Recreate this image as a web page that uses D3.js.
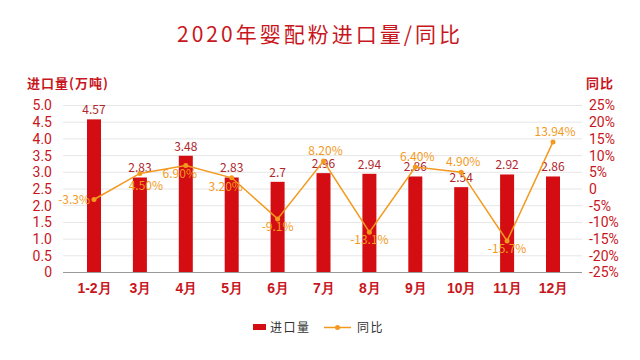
<!DOCTYPE html>
<html><head><meta charset="utf-8">
<script src="https://cdn.jsdelivr.net/npm/d3@7/dist/d3.min.js"></script>
<style>body{margin:0;background:#fff}svg{font-family:"Noto Sans CJK SC","Noto Sans",sans-serif}</style>
</head><body><svg id="c" width="640" height="360"></svg>
<script>
const categories = ["1-2月","3月","4月","5月","6月","7月","8月","9月","10月","11月","12月"];
const imports = [4.57,2.83,3.48,2.83,2.7,2.96,2.94,2.86,2.54,2.92,2.86];
const yoy = [-3.3,4.5,6.9,3.2,-9.1,8.2,-13.1,6.4,4.9,-15.7,13.94];
const yoyLabels = ["-3.3%","4.50%","6.90%","3.20%","-9.1%","8.20%","-13.1%","6.40%","4.90%","-15.7%","13.94%"];
const leftTicks = [0,0.5,1,1.5,2,2.5,3,3.5,4,4.5,5];
const rightTicks = [-25,-20,-15,-10,-5,0,5,10,15,20,25];
const labelPlacement = ["left","belowR","belowL","belowL","below","above","below","above","above","below","above"];

const RED="#d40d12", TXT="#c8161d", ORANGE="#f39a1e";
const svg=d3.select("#c");
const L=63,R=582,T=105,B=272;
const x=d3.scalePoint().domain(categories).range([94,553]);
const yL=d3.scaleLinear().domain([0,5]).range([B,T]);
const yR=d3.scaleLinear().domain([-25,25]).range([B,T]);

svg.append("text").attr("x",320).attr("y",42).attr("text-anchor","middle")
  .attr("fill",TXT).attr("font-size",21).attr("letter-spacing",3).text("2020年婴配粉进口量/同比");

// grid
svg.append("g").selectAll("line").data(leftTicks.slice(1)).join("line")
  .attr("x1",L).attr("x2",R).attr("y1",d=>yL(d)+0.5).attr("y2",d=>yL(d)+0.5)
  .attr("stroke","#e6e6e6");

// left axis
const gl=svg.append("g").attr("transform",`translate(${L-8},0)`)
  .call(d3.axisLeft(yL).tickValues(leftTicks).tickFormat(d=>d===0?"0":d3.format(".1f")(d)).tickSize(0));
gl.select(".domain").remove();
gl.selectAll("text").attr("fill",TXT).attr("font-size",14).attr("dy","0.35em").attr("font-family","Roboto");
// right axis
const gr=svg.append("g").attr("transform",`translate(${R+4},0)`)
  .call(d3.axisRight(yR).tickValues(rightTicks).tickFormat(d=>d===0?"0":d+"%").tickSize(0));
gr.select(".domain").remove();
gr.selectAll("text").attr("fill",TXT).attr("font-size",14).attr("dy","0.35em").attr("font-family","Roboto");

svg.append("text").attr("x",27).attr("y",88).attr("fill",TXT).attr("font-size",13).attr("font-weight","bold").attr("letter-spacing",1).text("进口量(万吨)");
svg.append("text").attr("x",586).attr("y",88).attr("fill",TXT).attr("font-size",13).attr("font-weight","bold").attr("letter-spacing",1).text("同比");

// bars
const bw=14;
svg.append("g").selectAll("rect").data(imports).join("rect")
  .attr("x",(d,i)=>x(categories[i])-bw/2).attr("width",bw)
  .attr("y",d=>yL(d)).attr("height",d=>B-yL(d)).attr("fill",RED);

// baseline
svg.append("line").attr("x1",L).attr("x2",R).attr("y1",B+0.5).attr("y2",B+0.5).attr("stroke","#999");

// x axis
const gx=svg.append("g").attr("transform",`translate(0,${B})`).call(d3.axisBottom(x).tickSize(0));
gx.select(".domain").remove();
gx.selectAll("text").attr("fill",TXT).attr("font-size",14).attr("font-weight","bold").attr("dy","1.25em");

// bar labels
svg.append("g").selectAll("text").data(imports).join("text")
  .attr("x",(d,i)=>x(categories[i])).attr("y",d=>yL(d)-5).attr("text-anchor","middle")
  .attr("fill","#b0262c").attr("font-size",12).text(d=>d);

// line
const line=d3.line().x((d,i)=>x(categories[i])).y(d=>yR(d));
svg.append("path").datum(yoy).attr("d",line).attr("fill","none").attr("stroke",ORANGE).attr("stroke-width",1.5);
svg.append("g").selectAll("circle").data(yoy).join("circle")
  .attr("cx",(d,i)=>x(categories[i])).attr("cy",d=>yR(d)).attr("r",2.5)
  .attr("fill",ORANGE);

const off={left:[-4,4,"end"],below:[0,12,"middle"],belowR:[6,17,"middle"],belowL:[-6,13,"middle"],above:[2,-6,"middle"]};
svg.append("g").selectAll("text").data(yoy).join("text")
  .attr("x",(d,i)=>x(categories[i])+off[labelPlacement[i]][0])
  .attr("y",(d,i)=>yR(d)+off[labelPlacement[i]][1])
  .attr("text-anchor",(d,i)=>off[labelPlacement[i]][2])
  .attr("fill",ORANGE).attr("font-size",12).text((d,i)=>yoyLabels[i]);

// legend
svg.append("rect").attr("x",253).attr("y",324).attr("width",13).attr("height",6).attr("fill",RED);
svg.append("text").attr("x",270).attr("y",332).attr("fill","#333").attr("font-size",12).attr("letter-spacing",1.5).text("进口量");
svg.append("line").attr("x1",324).attr("x2",351).attr("y1",327.5).attr("y2",327.5).attr("stroke",ORANGE).attr("stroke-width",1.5);
svg.append("circle").attr("cx",337.5).attr("cy",327.5).attr("r",2.5).attr("fill",ORANGE);
svg.append("text").attr("x",357).attr("y",332).attr("fill","#333").attr("font-size",12).attr("letter-spacing",1.5).text("同比");
</script></body></html>
